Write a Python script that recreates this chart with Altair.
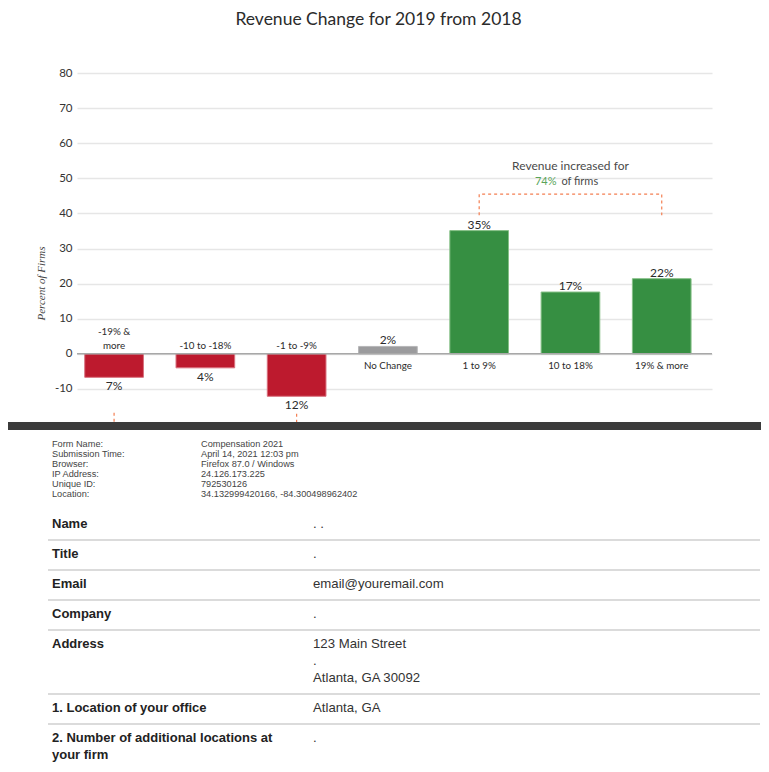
import altair as alt
import pandas as pd

# ---------------- chart data ----------------
categories = ["-19% & more", "-10 to -18%", "-1 to -9%", "No Change", "1 to 9%", "10 to 18%", "19% & more"]
label_line_top = ["-19% &", "", "", "", "", "", ""]
label_line_bottom = ["more", "-10 to -18%", "-1 to -9%", "No Change", "1 to 9%", "10 to 18%", "19% & more"]
percent_values = [-6.7, -4.0, -12.1, 2.1, 35.1, 17.6, 21.4]
value_labels = ["7%", "4%", "12%", "2%", "35%", "17%", "22%"]
directions = ["Decrease", "Decrease", "Decrease", "No change", "Increase", "Increase", "Increase"]
y_ticks = [-10, 0, 10, 20, 30, 40, 50, 60, 70, 80]

increase_bracket_cats = ["1 to 9%", "1 to 9%", "19% & more", "19% & more"]
increase_bracket_y = [39.5, 45.5, 45.5, 39.5]
decrease_bracket_cats = ["-19% & more", "-19% & more", "-1 to -9%", "-1 to -9%"]
decrease_bracket_y = [-16.8, -23, -23, -16.8]
annotation_cat = "10 to 18%"
annotation_line1 = "Revenue increased for"
annotation_share = "74%"
annotation_rest = "of firms"
annotation_y = [53.4, 48.9]

# ---------------- form data ----------------
header_labels = ["Form Name:", "Submission Time:", "Browser:", "IP Address:", "Unique ID:", "Location:"]
header_values = ["Compensation 2021", "April 14, 2021 12:03 pm", "Firefox 87.0 / Windows",
                 "24.126.173.225", "792530126", "34.132999420166, -84.300498962402"]
field_labels = ["Name", "Title", "Email", "Company", "Address", "1. Location of your office",
                "2. Number of additional locations at\nyour firm"]
field_values = [". .", ".", "email@youremail.com", ".", "123 Main Street\n.\nAtlanta, GA 30092", "Atlanta, GA", "."]

# ---------------- styles ----------------
RED, GRAY, GREEN = "#bd1a2e", "#9b9b9d", "#368f42"
RED_EDGE, GRAY_EDGE, GREEN_EDGE = "#d8707e", "#b5b5b7", "#86c087"
ORANGE = "#f47f52"
TXT = "#2b2b2b"
FONT = "Lato"
FORM_FONT = "Liberation Sans"
PLOT_W = 635
LEFT = 69  # plot-area left edge inside the svg

bars = pd.DataFrame({
    "category": categories,
    "top": label_line_top,
    "bottom": label_line_bottom,
    "pct": percent_values,
    "value_label": value_labels,
    "direction": directions,
})

x_scale = alt.Scale(domain=categories, paddingInner=0.357, paddingOuter=0.157, align=0.27)
y_scale = alt.Scale(domain=[-20, 80], nice=False, zero=False)
y_axis = alt.Axis(values=y_ticks, title="Percent of Firms", grid=True, titleY=210,
                  labelExpr="'' + datum.value", labelOverlap=False)
x_enc = alt.X("category:N", sort=categories, scale=x_scale, axis=None)


def yf(field):
    return alt.Y(field, scale=y_scale, axis=y_axis)


def yd(value):
    return alt.Y(datum=value, scale=y_scale, axis=y_axis)


bar = alt.Chart(bars).mark_bar(strokeWidth=1).encode(
    x=x_enc,
    y=yf("pct:Q"),
    y2=alt.datum(0),
    color=alt.Color("direction:N", scale=alt.Scale(domain=["Decrease", "No change", "Increase"],
                                                    range=[RED, GRAY, GREEN]), legend=None),
    stroke=alt.Stroke("direction:N", scale=alt.Scale(domain=["Decrease", "No change", "Increase"],
                                                      range=[RED_EDGE, GRAY_EDGE, GREEN_EDGE]), legend=None),
)

zero_rule = alt.Chart(pd.DataFrame({"pct": [0]})).mark_rule(color="#a8a8a8", strokeWidth=1.5).encode(
    y=yf("pct:Q")
)

neg = alt.datum.pct < 0
pos = alt.datum.pct >= 0

cat_neg_bottom = alt.Chart(bars).transform_filter(neg).mark_text(
    baseline="bottom", dy=-3, font=FONT, fontSize=9.8, color=TXT
).encode(x=x_enc, y=yd(0), text="bottom:N")
cat_neg_top = alt.Chart(bars).transform_filter(neg).mark_text(
    baseline="bottom", dy=-17, font=FONT, fontSize=9.8, color=TXT
).encode(x=x_enc, y=yd(0), text="top:N")

cat_pos = alt.Chart(bars).transform_filter(pos).mark_text(
    baseline="top", dy=7, font=FONT, fontSize=9.8, color=TXT
).encode(x=x_enc, y=yd(0), text="bottom:N")

val_neg = alt.Chart(bars).transform_filter(neg).mark_text(
    baseline="top", dy=4, font=FONT, fontSize=12, color=TXT
).encode(x=x_enc, y=yf("pct:Q"), text="value_label:N")

val_pos = alt.Chart(bars).transform_filter(pos).mark_text(
    baseline="bottom", dy=1, font=FONT, fontSize=12, color=TXT
).encode(x=x_enc, y=yf("pct:Q"), text="value_label:N")

inc_df = pd.DataFrame({"category": increase_bracket_cats, "pct": increase_bracket_y, "o": range(4)})
inc_bracket = alt.Chart(inc_df).mark_line(color=ORANGE, strokeWidth=1.2, strokeDash=[3, 3]).encode(
    x=x_enc, y=yf("pct:Q"), order="o:Q"
)
dec_df = pd.DataFrame({"category": decrease_bracket_cats, "pct": decrease_bracket_y, "o": range(4)})
dec_bracket = alt.Chart(dec_df).mark_line(color=ORANGE, strokeWidth=1.2, strokeDash=[3, 3], clip=True).encode(
    x=x_enc, y=yf("pct:Q"), order="o:Q"
)

ann_df = pd.DataFrame({"category": [annotation_cat], "line1": [annotation_line1],
                       "share": [annotation_share], "rest": [annotation_rest]})
ann1 = alt.Chart(ann_df).mark_text(font=FONT, fontSize=12, color="#4a4a4a", baseline="middle").encode(
    x=x_enc, y=yd(annotation_y[0]), text="line1:N")
ann2 = alt.Chart(ann_df).mark_text(font=FONT, fontSize=11, color="#5aa55a", baseline="middle",
                                   align="right", dx=-14).encode(
    x=x_enc, y=yd(annotation_y[1]), text="share:N")
ann3 = alt.Chart(ann_df).mark_text(font=FONT, fontSize=11, color="#4a4a4a", baseline="middle",
                                   align="left", dx=-9).encode(
    x=x_enc, y=yd(annotation_y[1]), text="rest:N")

bar_chart = alt.layer(
    bar, zero_rule, cat_neg_top, cat_neg_bottom, cat_pos, val_neg, val_pos,
    inc_bracket, dec_bracket, ann1, ann2, ann3
).properties(
    width=PLOT_W, height=351,
    title=alt.TitleParams("Revenue Change for 2019 from 2018", font=FONT, fontSize=17.5,
                          fontWeight="normal", color=TXT, anchor="middle", offset=38.5, dx=-16),
)

# ---------------- form layout ----------------
FORM_H = 334
header_rows = [{"label": l, "value": v, "y": 14 + 10 * i} for i, (l, v) in enumerate(zip(header_labels, header_values))]
label_rows, value_rows, rule_rows = [], [], []
cur = 94
for lab, val in zip(field_labels, field_values):
    l_lines = lab.split("\n")
    v_lines = val.split("\n")
    for k, t in enumerate(l_lines):
        label_rows.append({"text": t, "y": cur + 17 * k})
    for k, t in enumerate(v_lines):
        value_rows.append({"text": t, "y": cur + 17 * k})
    n = max(len(l_lines), len(v_lines))
    rule_y = cur + 17 * (n - 1) + 16
    if rule_y <= FORM_H:
        rule_rows.append({"y": rule_y})
    cur = rule_y + 14

fy = alt.Scale(domain=[FORM_H, 0], nice=False, zero=False)
hdr = pd.DataFrame(header_rows)

band = alt.Chart(pd.DataFrame({"a": [0]})).mark_rect(color="#3b3b3b").encode(
    x=alt.value(-LEFT), x2=alt.value(753 - LEFT),
    y=alt.Y(datum=-8, scale=fy, axis=None), y2=alt.datum(0))
hdr_l = alt.Chart(hdr).mark_text(align="left", baseline="middle", font=FORM_FONT, fontSize=9.2, color="#444").encode(
    x=alt.value(44 - LEFT), y=alt.Y("y:Q", scale=fy, axis=None), text="label:N")
hdr_v = alt.Chart(hdr).mark_text(align="left", baseline="middle", font=FORM_FONT, fontSize=9.2, color="#444").encode(
    x=alt.value(193 - LEFT), y=alt.Y("y:Q", scale=fy, axis=None), text="value:N")
f_l = alt.Chart(pd.DataFrame(label_rows)).mark_text(align="left", baseline="middle", font=FORM_FONT,
                                                    fontSize=13, fontWeight="bold", color="#222").encode(
    x=alt.value(44 - LEFT), y=alt.Y("y:Q", scale=fy, axis=None), text="text:N")
f_v = alt.Chart(pd.DataFrame(value_rows)).mark_text(align="left", baseline="middle", font=FORM_FONT,
                                                    fontSize=13.2, color="#333").encode(
    x=alt.value(305 - LEFT), y=alt.Y("y:Q", scale=fy, axis=None), text="text:N")
f_r = alt.Chart(pd.DataFrame(rule_rows)).mark_rule(color="#cfcfcf", strokeWidth=1.5).encode(
    x=alt.value(40 - LEFT), x2=alt.value(752 - LEFT), y=alt.Y("y:Q", scale=fy, axis=None))

form_chart = alt.layer(band, hdr_l, hdr_v, f_l, f_v, f_r).properties(width=PLOT_W, height=FORM_H)

chart = alt.vconcat(bar_chart, form_chart, spacing=6, bounds="flush").properties(
    padding={"left": 0, "top": 3, "right": 0, "bottom": 0},
    background="white",
).configure_view(stroke=None).configure_axisY(
    labelFont=FONT, labelFontSize=11.5, labelColor="#333", labelPadding=5,
    ticks=False, domain=False, gridColor="#e6e6e6", gridWidth=1.3,
    titleFont="Liberation Serif", titleFontStyle="italic", titleFontSize=11,
    titleFontWeight="normal", titleColor="#444", titlePadding=8,
)

chart.save("out.html", embed_options={"renderer": "svg", "actions": False})
